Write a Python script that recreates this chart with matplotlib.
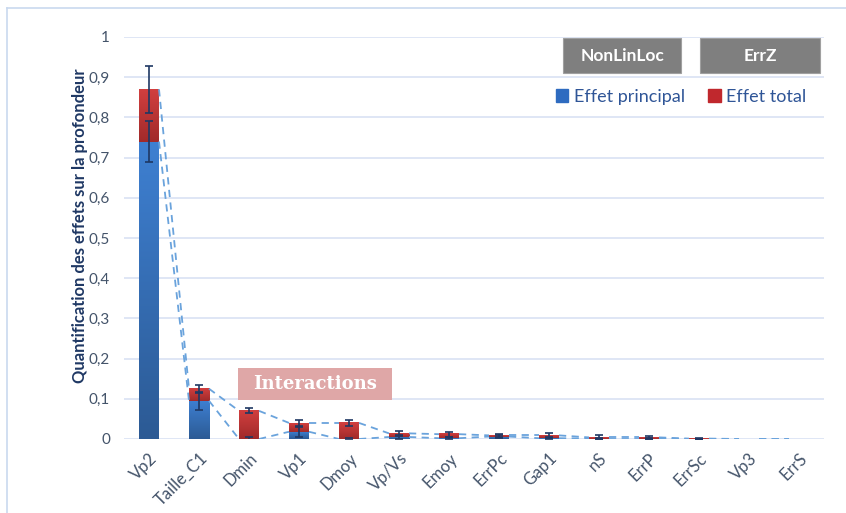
import matplotlib.pyplot as plt
import numpy as np
from matplotlib.patches import Rectangle, Patch
from matplotlib.lines import Line2D
from matplotlib.colors import LinearSegmentedColormap

# data
params = ['Vp2', 'Taille_C1', 'Dmin', 'Vp1', 'Dmoy', 'Vp/Vs', 'Emoy', 'ErrPc',
          'Gap1', 'nS', 'ErrP', 'ErrSc', 'Vp3', 'ErrS']
principal = [0.74, 0.095, 0.0, 0.018, 0.0, 0.005, 0.002, 0.006,
             0.002, 0.001, 0.001, 0.0, 0.0, 0.0]
total = [0.87, 0.125, 0.07, 0.04, 0.04, 0.014, 0.012, 0.009,
         0.009, 0.004, 0.004, 0.001, 0.0, 0.0]
err_principal = [0.052, 0.022, 0.006, 0.012, 0.003, 0.004, 0.003, 0.003,
                 0.003, 0.002, 0.002, 0.0, 0.0, 0.0]
err_total = [0.058, 0.01, 0.006, 0.008, 0.007, 0.006, 0.006, 0.003,
             0.007, 0.005, 0.004, 0.001, 0.0, 0.0]

navy = '#1f3864'
txt = '#44546a'
blue_cm = LinearSegmentedColormap.from_list('b', ['#2c5a94', '#3e80d2'])
red_cm = LinearSegmentedColormap.from_list('r', ['#a02a2a', '#d23f3f'])

plt.rcParams['font.family'] = ['Lato', 'DejaVu Sans']

fig = plt.figure(figsize=(8.46, 5.13), dpi=100)
ax = fig.add_axes([124 / 846, 1 - 439 / 513, 700 / 846, 402 / 513])

x = np.arange(len(params))
w = 0.4
principal = np.array(principal)
total = np.array(total)
rest = total - principal

grad = np.linspace(0, 1, 256).reshape(-1, 1)


def gradient_bars(bars, cmap):
    # paint each bar with a vertical gradient, darker at the bottom
    for b in bars:
        if b.get_height() <= 0:
            continue
        x0, y0 = b.get_x(), b.get_y()
        ax.imshow(grad, extent=[x0, x0 + b.get_width(), y0, y0 + b.get_height()],
                  origin='lower', aspect='auto', cmap=cmap, zorder=3)
        b.set_visible(False)


b1 = ax.bar(x, principal, w, color='#3572c2', zorder=3)
b2 = ax.bar(x, rest, w, bottom=principal, color='#c4302f', zorder=3)
gradient_bars(b1, blue_cm)
gradient_bars(b2, red_cm)

nz = total > 0
ax.errorbar(x[nz], total[nz], yerr=np.array(err_total)[nz], fmt='none', ecolor=navy,
            elinewidth=1.2, capsize=3, capthick=1.2, zorder=5)
nzp = principal > 0
ax.errorbar(x[nz], principal[nz], yerr=np.array(err_principal)[nz], fmt='none',
            ecolor=navy, elinewidth=1.2, capsize=3, capthick=1.2, zorder=5)

# series lines between stacked segments
for lvl in (principal, total):
    for i in range(len(x) - 1):
        ax.plot([x[i] + w / 2, x[i + 1] - w / 2], [lvl[i], lvl[i + 1]],
                ls=(0, (4, 3)), color='#6aa3dc', lw=1.3, zorder=4)

ax.set_xlim(-0.5, 13.5)
ax.set_ylim(0, 1)
ax.set_yticks(np.arange(0, 1.01, 0.1))
ax.set_yticklabels(['0'] + ['0,%d' % i for i in range(1, 10)] + ['1'])
ax.set_xticks(x)
ax.set_xticklabels(params, rotation=45, ha='right', rotation_mode='anchor')
ax.tick_params(axis='both', length=0, colors=txt, labelsize=12)
ax.tick_params(axis='y', pad=10, labelsize=11)
ax.tick_params(axis='x', pad=8)
for s in ax.spines.values():
    s.set_visible(False)
ax.grid(axis='y', color='#d9e2f3', lw=1.2, zorder=0)

ax.set_ylabel('Quantification des effets sur la profondeur', color=navy,
              fontsize=12, fontweight='bold')
ax.yaxis.set_label_coords(-0.052, 0.53)

# Interactions box
ax.add_patch(Rectangle((0.163, 0.097), 0.22, 0.08, transform=ax.transAxes,
                       facecolor='#dfa7a7', edgecolor='none', zorder=6))
ax.text(0.273, 0.137, 'Interactions', transform=ax.transAxes, ha='center',
        va='center', color='white', fontsize=13, fontweight='bold',
        family='DejaVu Serif', zorder=7)

# gray header boxes
for x0, x1, label in [(563, 681, 'NonLinLoc'), (700, 820, 'ErrZ')]:
    fig.patches.append(Rectangle((x0 / 846, 1 - 73 / 513), (x1 - x0) / 846, 35 / 513,
                                 transform=fig.transFigure, facecolor='#7f7f7f',
                                 edgecolor='#a0a0a0', lw=0.8, zorder=6))
    fig.text((x0 + x1) / 2 / 846, 1 - 56 / 513, label, ha='center', va='center',
             color='white', fontsize=12.5, fontweight='bold', zorder=7)

handles = [Patch(color='#2e6bc0'), Patch(color='#c0282d')]
leg = fig.legend(handles, ['Effet principal', 'Effet total'], ncol=2,
                 loc='center', bbox_to_anchor=(681 / 846, 1 - 97 / 513),
                 frameon=False, handlelength=0.7, handleheight=0.7,
                 handletextpad=0.3, columnspacing=1.3, fontsize=13)
for t in leg.get_texts():
    t.set_color('#2f5597')

# chart frame
fig.add_artist(Line2D([7 / 846, 7 / 846], [0, 1 - 8 / 513], color='#c9d9ef', lw=1.2))
fig.add_artist(Line2D([7 / 846, 1], [1 - 8 / 513, 1 - 8 / 513], color='#c9d9ef', lw=1.2))

fig.savefig('out.png', dpi=100)
